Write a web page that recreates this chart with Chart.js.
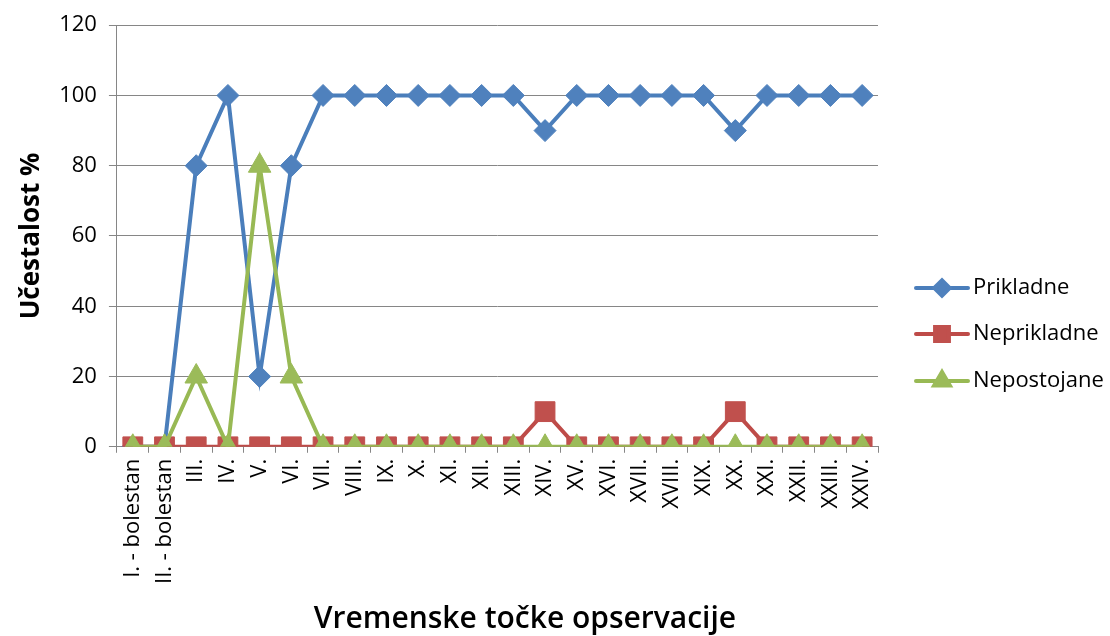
<!DOCTYPE html>
<html>
<head>
<meta charset="utf-8">
<script src="https://cdn.jsdelivr.net/npm/chart.js@4"></script>
<style>
  html, body { margin: 0; padding: 0; background: #fff; }
  #wrap { width: 1110px; height: 636px; }
</style>
</head>
<body>
<div id="wrap"><canvas id="chart" width="1110" height="636"></canvas></div>
<script>
const labels = ['I. - bolestan', 'II. - bolestan', 'III.', 'IV.', 'V.', 'VI.', 'VII.', 'VIII.', 'IX.', 'X.', 'XI.', 'XII.',
  'XIII.', 'XIV.', 'XV.', 'XVI.', 'XVII.', 'XVIII.', 'XIX.', 'XX.', 'XXI.', 'XXII.', 'XXIII.', 'XXIV.'];
const prikladne = [0, 0, 80, 100, 20, 80, 100, 100, 100, 100, 100, 100, 100, 90, 100, 100, 100, 100, 100, 90, 100, 100, 100, 100];
const neprikladne = [0, 0, 0, 0, 0, 0, 0, 0, 0, 0, 0, 0, 0, 10, 0, 0, 0, 0, 0, 10, 0, 0, 0, 0];
const nepostojane = [0, 0, 20, 0, 80, 20, 0, 0, 0, 0, 0, 0, 0, 0, 0, 0, 0, 0, 0, 0, 0, 0, 0, 0];
const yTicks = [0, 20, 40, 60, 80, 100, 120];
const xTitle = 'Vremenske točke opservacije';

const font = '"Open Sans", sans-serif';
const xTitleFont = {family: font, size: 30, weight: '600'};

// legend drawn by hand: line + marker + text, like Excel
// x title is laid out by the scale (transparent) and painted here a bit right of centre
const sideLegend = {
  id: 'sideLegend',
  afterDraw(chart) {
    const ctx = chart.ctx;
    const x0 = 916, x1 = 968;
    const ys = [288, 334, 381];
    chart.data.datasets.forEach((ds, i) => {
      const y = ys[i];
      ctx.save();
      ctx.strokeStyle = ds.borderColor;
      ctx.lineWidth = 4;
      ctx.lineCap = 'round';
      ctx.beginPath();
      ctx.moveTo(x0, y);
      ctx.lineTo(x1, y);
      ctx.stroke();
      ctx.fillStyle = ds.pointBackgroundColor;
      ctx.strokeStyle = ds.pointBackgroundColor;
      Chart.helpers.drawPoint(ctx, {pointStyle: ds.pointStyle, radius: ds.pointRadius * 0.7, borderWidth: 1}, (x0 + x1) / 2, y);
      ctx.fillStyle = '#000';
      ctx.font = '22px ' + font;
      ctx.textBaseline = 'middle';
      ctx.fillText(ds.label, 973, y);
      ctx.restore();
    });

    ctx.save();
    ctx.fillStyle = '#000';
    ctx.font = xTitleFont.weight + ' ' + xTitleFont.size + 'px ' + font;
    ctx.textAlign = 'center';
    ctx.textBaseline = 'middle';
    ctx.fillText(xTitle, 525, chart.height - 17);
    ctx.restore();
  }
};

new Chart(document.getElementById('chart'), {
  type: 'line',
  data: {
    labels: labels,
    datasets: [{
      label: 'Prikladne',
      data: prikladne,
      borderColor: '#4a7ebb',
      borderWidth: 4,
      pointStyle: 'rectRot',
      pointRadius: 11,
      pointBackgroundColor: '#4f81bd',
      pointBorderColor: '#4f81bd',
      pointBorderWidth: 1,
      order: 3
    }, {
      label: 'Neprikladne',
      data: neprikladne,
      borderColor: '#be4b48',
      borderWidth: 4,
      pointStyle: 'rect',
      pointRadius: 14,
      pointBackgroundColor: '#c0504d',
      pointBorderColor: '#c0504d',
      pointBorderWidth: 1,
      order: 2
    }, {
      label: 'Nepostojane',
      data: nepostojane,
      borderColor: '#98b954',
      borderWidth: 4,
      pointStyle: 'triangle',
      pointRadius: 13,
      pointBackgroundColor: '#9bbb59',
      pointBorderColor: '#9bbb59',
      pointBorderWidth: 1,
      order: 1
    }]
  },
  plugins: [sideLegend],
  options: {
    responsive: false,
    animation: false,
    layout: {
      padding: {left: 16, right: 232, top: 10, bottom: 0}
    },
    plugins: {
      legend: {display: false},
      tooltip: {enabled: false}
    },
    scales: {
      x: {
        offset: true,
        grid: {
          offset: true,
          drawOnChartArea: false,
          color: '#868686',
          tickLength: 6
        },
        border: {color: '#868686', width: 1},
        ticks: {
          color: '#000',
          font: {family: font, size: 22},
          maxRotation: 90,
          minRotation: 90,
          autoSkip: false,
          padding: 6
        },
        title: {
          display: true,
          text: xTitle,
          color: 'rgba(0,0,0,0)',
          font: xTitleFont,
          padding: {top: 10, bottom: 0}
        }
      },
      y: {
        min: 0,
        max: 120,
        afterBuildTicks(axis) {
          axis.ticks = yTicks.map(v => ({value: v}));
        },
        grid: {
          color: '#868686',
          tickLength: 8,
          lineWidth: 1
        },
        border: {color: '#868686', width: 1},
        ticks: {
          color: '#000',
          font: {family: font, size: 22},
          padding: 12
        },
        title: {
          display: true,
          text: 'Učestalost %',
          color: '#000',
          font: {family: font, size: 26, weight: 'bold'},
          padding: {top: 0, bottom: 0}
        }
      }
    }
  }
});
</script>
</body>
</html>
